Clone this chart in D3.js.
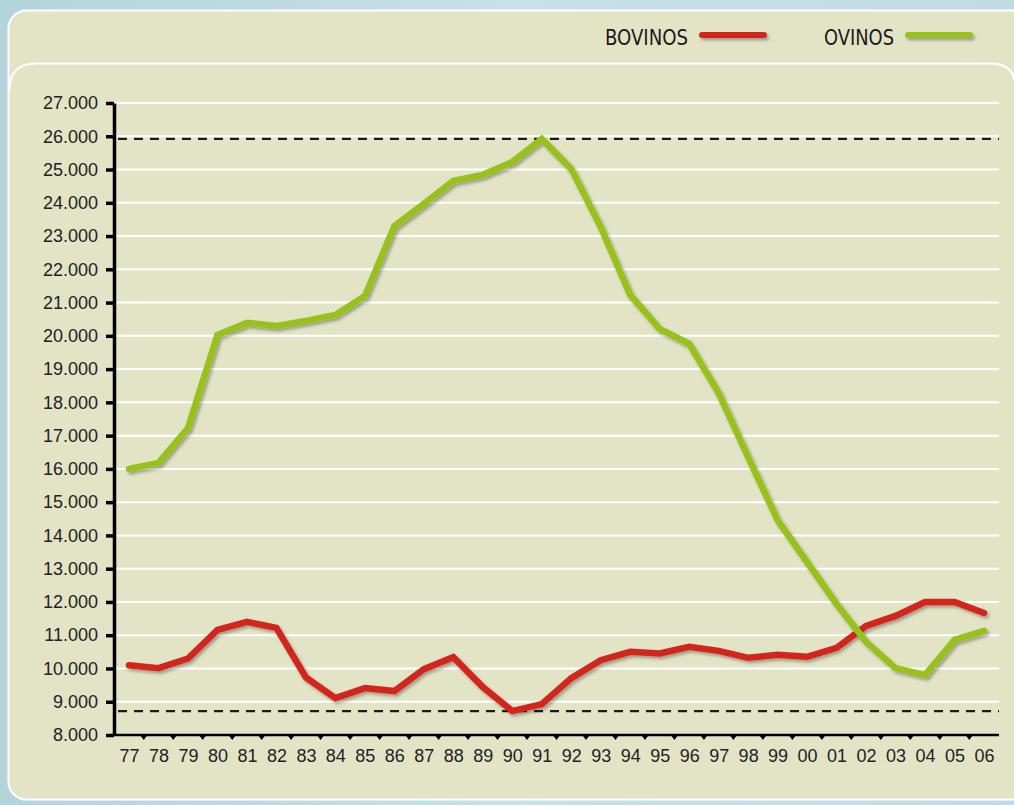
<!DOCTYPE html>
<html>
<head>
<meta charset="utf-8">
<script src="https://cdn.jsdelivr.net/npm/d3@7"></script>
<style>
  html, body { margin: 0; padding: 0; }
  body { width: 1014px; height: 805px; overflow: hidden; }
  .tick text { font-family: "Liberation Sans", Arial, sans-serif; font-size: 18px; fill: #222; }
  .legend-label { font-family: "Liberation Sans Narrow", "DejaVu Sans Condensed", sans-serif; font-size: 21px; fill: #1a1a1a; }
</style>
</head>
<body>
<div id="chart"></div>
<script>
const years = ["77","78","79","80","81","82","83","84","85","86","87","88","89","90","91",
               "92","93","94","95","96","97","98","99","00","01","02","03","04","05","06"];

const bovinos = [10100, 10010, 10300, 11160, 11400, 11220, 9730, 9110, 9410, 9320,
                 9980, 10340, 9440, 8720, 8930, 9710, 10250, 10500, 10450, 10650,
                 10530, 10320, 10410, 10350, 10620, 11280, 11580, 12000, 12000, 11670];

const ovinos = [16000, 16180, 17230, 20030, 20390, 20300, 20450, 20630, 21200, 23300,
                23970, 24660, 24840, 25230, 25920, 25020, 23270, 21230, 20210, 19760,
                18280, 16350, 14460, 13200, 11940, 10800, 10010, 9800, 10860, 11130];

const yTicks = d3.range(8000, 27001, 1000);

const seriesNames = ["BOVINOS", "OVINOS"];
const seriesColors = ["#d2281f", "#97c21c"];

const width = 1014;
const height = 805;
const margin = {top: 103, right: 15, bottom: 70, left: 114};
const innerwidth = 999 - margin.left;
const innerheight = 735 - margin.top;

const svg = d3.select("#chart")
    .append("svg")
    .attr("width", width)
    .attr("height", height)
    .attr("viewBox", `0 0 ${width} ${height}`);

const defs = svg.append("defs");
const bg = defs.append("linearGradient")
    .attr("id", "bg")
    .attr("x1", 0).attr("y1", 0).attr("x2", 1).attr("y2", 0);
bg.append("stop").attr("offset", "0%").attr("stop-color", "#b4d4dc");
bg.append("stop").attr("offset", "50%").attr("stop-color", "#c6e1e8");
bg.append("stop").attr("offset", "100%").attr("stop-color", "#bfdce4");

// user space units so that flat horizontal lines keep their shadow
const shadow = defs.append("filter")
    .attr("id", "shadow")
    .attr("filterUnits", "userSpaceOnUse")
    .attr("x", -200).attr("y", -200)
    .attr("width", 1400).attr("height", 1200);
shadow.append("feDropShadow")
    .attr("dx", 2).attr("dy", 2.5)
    .attr("stdDeviation", 1.8)
    .attr("flood-color", "#000")
    .attr("flood-opacity", 0.3);

// background and panels
svg.append("rect")
    .attr("width", width).attr("height", height)
    .attr("fill", "url(#bg)");

svg.append("rect")
    .attr("x", 8.5).attr("y", 10.5)
    .attr("width", 1030).attr("height", 789)
    .attr("rx", 18)
    .attr("fill", "#e3e4c6")
    .attr("stroke", "#ffffff")
    .attr("stroke-width", 2);

svg.append("path")
    .attr("d", "M9.5,90 Q9.5,63.5 36,63.5 L990,63.5 Q1012,63.5 1014,80")
    .attr("fill", "none")
    .attr("stroke", "#ffffff")
    .attr("stroke-width", 2);

const xScale = d3.scalePoint().domain(years).range([129 - margin.left, 984 - margin.left]);
const yScale = d3.scaleLinear().domain([8000, 27000]).range([innerheight, 0]);

const innerChart = svg.append("g")
    .attr("transform", `translate(${margin.left},${margin.top})`);

// white gridlines
innerChart.selectAll("line.grid")
    .data(yTicks.slice(1))
    .join("line")
    .attr("class", "grid")
    .attr("x1", 0)
    .attr("x2", innerwidth)
    .attr("y1", d => yScale(d))
    .attr("y2", d => yScale(d))
    .attr("stroke", "#ffffff")
    .attr("stroke-width", 2);

// dashed max / min reference lines
const refs = [d3.max(ovinos), d3.min(bovinos)];
innerChart.selectAll("line.ref")
    .data(refs)
    .join("line")
    .attr("class", "ref")
    .attr("x1", 4)
    .attr("x2", innerwidth)
    .attr("y1", d => yScale(d))
    .attr("y2", d => yScale(d))
    .attr("stroke", "#1a1a1a")
    .attr("stroke-width", 2.2)
    .attr("stroke-dasharray", "9,7");

// series lines
const line = d3.line()
    .x((d, i) => xScale(years[i]))
    .y(d => yScale(d));

innerChart.selectAll("path.series")
    .data([bovinos, ovinos])
    .join("path")
    .attr("class", "series")
    .attr("d", line)
    .attr("fill", "none")
    .attr("stroke", (d, i) => seriesColors[i])
    .attr("stroke-width", 6.5)
    .attr("stroke-linejoin", "miter")
    .attr("stroke-linecap", "round")
    .attr("filter", "url(#shadow)");

// axes
const locale = d3.formatLocale({decimal: ",", thousands: ".", grouping: [3], currency: ["", ""]});
const fmt = locale.format(",");

const leftAxis = d3.axisLeft(yScale)
    .tickValues(yTicks)
    .tickFormat(fmt)
    .tickSize(8)
    .tickSizeOuter(0)
    .tickPadding(8);

const yAxisG = innerChart.append("g").call(leftAxis);
yAxisG.select(".domain").attr("stroke", "#000").attr("stroke-width", 3.5);
yAxisG.selectAll(".tick line").attr("stroke", "#000").attr("stroke-width", 3.5);

const bottomAxis = d3.axisBottom(xScale)
    .tickSize(0)
    .tickSizeOuter(0)
    .tickPadding(14);

const xAxisG = innerChart.append("g")
    .attr("transform", `translate(0,${innerheight})`)
    .call(bottomAxis);
xAxisG.select(".domain")
    .attr("d", `M0,0H${innerwidth}`)
    .attr("stroke", "#000")
    .attr("stroke-width", 2.5);

// small triangle markers between the year labels
const mids = d3.pairs(years).map(([a, b]) => (xScale(a) + xScale(b)) / 2);
innerChart.selectAll("path.mid")
    .data(mids)
    .join("path")
    .attr("class", "mid")
    .attr("d", d => `M${d - 3},${innerheight + 1} L${d + 3},${innerheight + 1} L${d},${innerheight + 5} Z`)
    .attr("fill", "#000");

// legend
const legendX = [605, 824];
const legendW = [83, 70];
const legend = svg.append("g");
seriesNames.forEach((name, i) => {
    legend.append("text")
        .attr("class", "legend-label")
        .attr("x", legendX[i])
        .attr("y", 45)
        .attr("textLength", legendW[i])
        .attr("lengthAdjust", "spacingAndGlyphs")
        .text(name);
    legend.append("line")
        .attr("x1", legendX[i] + legendW[i] + 14)
        .attr("x2", legendX[i] + legendW[i] + 14 + 62)
        .attr("y1", 35)
        .attr("y2", 35)
        .attr("stroke", seriesColors[i])
        .attr("stroke-width", 6)
        .attr("stroke-linecap", "round")
        .attr("filter", "url(#shadow)");
});
</script>
</body>
</html>
